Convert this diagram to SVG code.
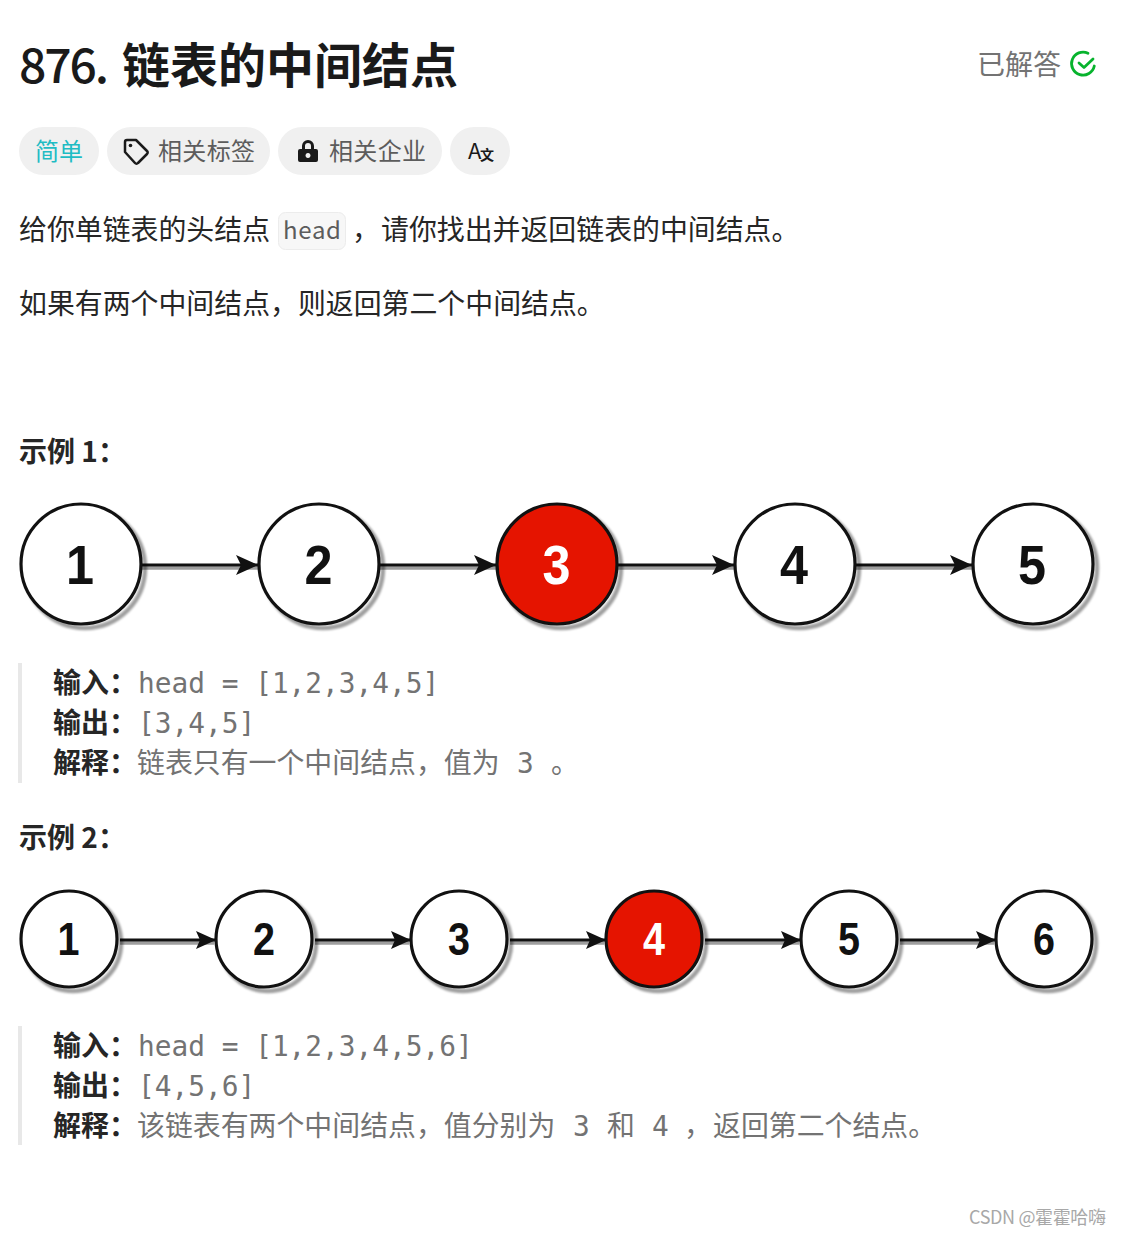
<svg xmlns="http://www.w3.org/2000/svg" width="1121" height="1236" viewBox="0 0 1121 1236">
<style>
text{font-family:"Noto Sans CJK SC","Noto Sans",sans-serif;white-space:pre}
.body{font-size:27.900px;fill:#262626}
.b{font-size:28px;font-weight:700;fill:#262626}
.m{font-family:"DejaVu Sans Mono","Noto Sans CJK SC",monospace;font-size:27.800px;fill:#737373}
.g{font-size:27.900px;fill:#737373}
.pill{fill:#f0f0f0}
.tag{font-size:24px;fill:#5c5c5c}
.n1{fill:#fff;stroke:#111;stroke-width:3.200}
.red{fill:#e51400}
.sh{fill:none;stroke:#000;stroke-opacity:.38;stroke-width:4.500}
.num{font-family:"Liberation Sans",Arial,sans-serif;font-weight:700;text-anchor:middle;fill:#111}
.w{fill:#fff}
.big{font-size:56px}.small{font-size:46px}
.c{stroke:#111;stroke-width:3.200;fill:none;marker-end:url(#a)}
.cs{stroke:#000;stroke-opacity:.38;stroke-width:3.500;fill:none}
.bar{fill:#e8e8e8}
</style>
<defs>
<marker id="a" markerUnits="userSpaceOnUse" markerWidth="24" markerHeight="24" refX="22" refY="12" orient="auto"><path d="M0 2 L22 12 L0 22 L5 12Z" fill="#111"/></marker>
<marker id="a2" markerUnits="userSpaceOnUse" markerWidth="20" markerHeight="22" refX="20" refY="11" orient="auto"><path d="M0 2 L20 11 L0 20 L4 11Z" fill="#111"/></marker>
<filter id="bl" x="-10%" y="-10%" width="120%" height="120%"><feGaussianBlur stdDeviation="1.200"/></filter>
</defs>
<rect width="1121" height="1236" fill="#fff"/>

<g id="header">
<text x="19" y="83" font-size="48" font-weight="500" fill="#1a1a1a" textLength="90">876.</text>
<text x="122" y="83" font-size="48" font-weight="700" fill="#1a1a1a">链表的中间结点</text>
<text x="977" y="75" font-size="28" fill="#737373">已解答</text>
<g fill="none" stroke="#07b32d" stroke-width="2.800" stroke-linecap="round" stroke-linejoin="round"><path d="M1094.300 66A11.500 11.500 0 1 1 1088 53.200"/><path d="M1079 63l5 4.500 9-8.500"/></g>
</g>

<g id="tags">
<rect class="pill" x="19" y="127" width="80" height="48" rx="24"/>
<text x="35" y="160" font-size="24" fill="#1fbcc4">简单</text>
<rect class="pill" x="107" y="127" width="163" height="48" rx="24"/>
<path d="M125 142a2 2 0 0 1 2-2h9l11 11a2 2 0 0 1 0 3l-9 9a2 2 0 0 1-3 0l-10-11z" fill="none" stroke="#1a1a1a" stroke-width="2.500" stroke-linejoin="round"/><circle cx="130.500" cy="145.500" r="1.800" fill="#1a1a1a"/>
<text class="tag" x="158" y="160" textLength="97">相关标签</text>
<rect class="pill" x="278" y="127" width="164" height="48" rx="24"/>
<path d="M300 149h2v-3a6 6 0 0 1 12 0v3h2a2 2 0 0 1 2 2v9a2 2 0 0 1-2 2h-16a2 2 0 0 1-2-2v-9a2 2 0 0 1 2-2zm5 0h6v-3a3 3 0 0 0-6 0zm3 4a2.500 2.500 0 1 0 .01 0z" fill="#1a1a1a" fill-rule="evenodd"/>
<text class="tag" x="329" y="160" textLength="97">相关企业</text>
<rect class="pill" x="450" y="127" width="60" height="48" rx="24"/>
<text x="468" y="159" font-size="22" fill="#1a1a1a" font-family="Noto Sans">A</text>
<text x="480" y="160" font-size="14" fill="#1a1a1a" font-weight="700">文</text>
</g>

<g id="desc">
<text class="body" x="19" y="240">给你单链表的头结点</text>
<rect x="278.500" y="212.500" width="67" height="37" rx="7" fill="#f7f7f7" stroke="#ececec"/>
<text x="283" y="239" font-family="DejaVu Sans Mono,monospace" font-size="24" fill="#5c5c5c" textLength="58">head</text>
<text class="body" x="352" y="240">，</text>
<text class="body" x="381" y="240">请你找出并返回链表的中间结点。</text>
<text class="body" x="19" y="314">如果有两个中间结点，则返回第二个中间结点。</text>
</g>

<text id="ex1-title" x="19" y="462" font-size="28" font-weight="700" fill="#262626">示例 1：</text>

<g id="connectors">
<g class="shadows">
<path class="cs" d="M142 568H258M380 568H496M618 568H734M856 568H972M120 943H214M315 943H409M510 943H604M705 943H799M900 943H994"/>
</g>
<path class="c" d="M142 565H258"/><path class="c" d="M380 565H496"/><path class="c" d="M618 565H734"/><path class="c" d="M856 565H972"/>
<path class="c" style="marker-end:url(#a2)" d="M120 940H216"/><path class="c" style="marker-end:url(#a2)" d="M315 940H411"/><path class="c" style="marker-end:url(#a2)" d="M510 940H606"/><path class="c" style="marker-end:url(#a2)" d="M705 940H801"/><path class="c" style="marker-end:url(#a2)" d="M900 940H996"/>
</g>

<g id="ex1-n1"><circle class="sh" cx="85" cy="568" r="60" filter="url(#bl)"/><circle class="n1" cx="81" cy="564" r="60"/><text class="num big" x="80" y="584" textLength="28" lengthAdjust="spacingAndGlyphs">1</text></g>
<g id="ex1-n2"><circle class="sh" cx="323" cy="568" r="60" filter="url(#bl)"/><circle class="n1" cx="319" cy="564" r="60"/><text class="num big" x="318.500" y="584" textLength="28" lengthAdjust="spacingAndGlyphs">2</text></g>
<g id="ex1-n3"><circle class="sh" cx="561" cy="568" r="60" filter="url(#bl)"/><circle class="n1 red" cx="557" cy="564" r="60"/><text class="num big w" x="556.500" y="584" textLength="28" lengthAdjust="spacingAndGlyphs">3</text></g>
<g id="ex1-n4"><circle class="sh" cx="799" cy="568" r="60" filter="url(#bl)"/><circle class="n1" cx="795" cy="564" r="60"/><text class="num big" x="794" y="584" textLength="28" lengthAdjust="spacingAndGlyphs">4</text></g>
<g id="ex1-n5"><circle class="sh" cx="1037" cy="568" r="60" filter="url(#bl)"/><circle class="n1" cx="1033" cy="564" r="60"/><text class="num big" x="1032" y="584" textLength="28" lengthAdjust="spacingAndGlyphs">5</text></g>

<g id="ex1-text">
<rect class="bar" x="18" y="663" width="4" height="120"/>
<text class="b" x="53" y="693">输入：</text><text class="m" x="138" y="693">head = [1,2,3,4,5]</text>
<text class="b" x="53" y="733">输出：</text><text class="m" x="138" y="733">[3,4,5]</text>
<text class="b" x="53" y="773">解释：</text><text class="g" x="137" y="773">链表只有一个中间结点，值为</text><text class="m" x="517" y="773">3</text><text class="g" x="551" y="773">。</text>
</g>

<text id="ex2-title" x="19" y="848" font-size="28" font-weight="700" fill="#262626">示例 2：</text>

<g id="ex2-n1"><circle class="sh" cx="73" cy="943" r="48" filter="url(#bl)"/><circle class="n1" cx="69" cy="939" r="48"/><text class="num small" x="68.500" y="955" textLength="22" lengthAdjust="spacingAndGlyphs">1</text></g>
<g id="ex2-n2"><circle class="sh" cx="268" cy="943" r="48" filter="url(#bl)"/><circle class="n1" cx="264" cy="939" r="48"/><text class="num small" x="264" y="955" textLength="22" lengthAdjust="spacingAndGlyphs">2</text></g>
<g id="ex2-n3"><circle class="sh" cx="463" cy="943" r="48" filter="url(#bl)"/><circle class="n1" cx="459" cy="939" r="48"/><text class="num small" x="459" y="955" textLength="22" lengthAdjust="spacingAndGlyphs">3</text></g>
<g id="ex2-n4"><circle class="sh" cx="658" cy="943" r="48" filter="url(#bl)"/><circle class="n1 red" cx="654" cy="939" r="48"/><text class="num small w" x="654" y="955" textLength="22" lengthAdjust="spacingAndGlyphs">4</text></g>
<g id="ex2-n5"><circle class="sh" cx="853" cy="943" r="48" filter="url(#bl)"/><circle class="n1" cx="849" cy="939" r="48"/><text class="num small" x="849" y="955" textLength="22" lengthAdjust="spacingAndGlyphs">5</text></g>
<g id="ex2-n6"><circle class="sh" cx="1048" cy="943" r="48" filter="url(#bl)"/><circle class="n1" cx="1044" cy="939" r="48"/><text class="num small" x="1044" y="955" textLength="22" lengthAdjust="spacingAndGlyphs">6</text></g>

<g id="ex2-text">
<rect class="bar" x="18" y="1026" width="4" height="119"/>
<text class="b" x="53" y="1056">输入：</text><text class="m" x="138" y="1056">head = [1,2,3,4,5,6]</text>
<text class="b" x="53" y="1096">输出：</text><text class="m" x="138" y="1096">[4,5,6]</text>
<text class="b" x="53" y="1136">解释：</text><text class="g" x="137" y="1136">该链表有两个中间结点，值分别为</text><text class="m" x="573" y="1136">3</text><text class="g" x="607" y="1136">和</text><text class="m" x="652" y="1136">4</text><text class="g" x="684" y="1136">，</text><text class="g" x="713" y="1136">返回第二个结点。</text>
</g>

<text id="watermark" x="969" y="1224" font-size="18" fill="#a8a8a8" textLength="137">CSDN @霍霍哈嗨</text>
</svg>
